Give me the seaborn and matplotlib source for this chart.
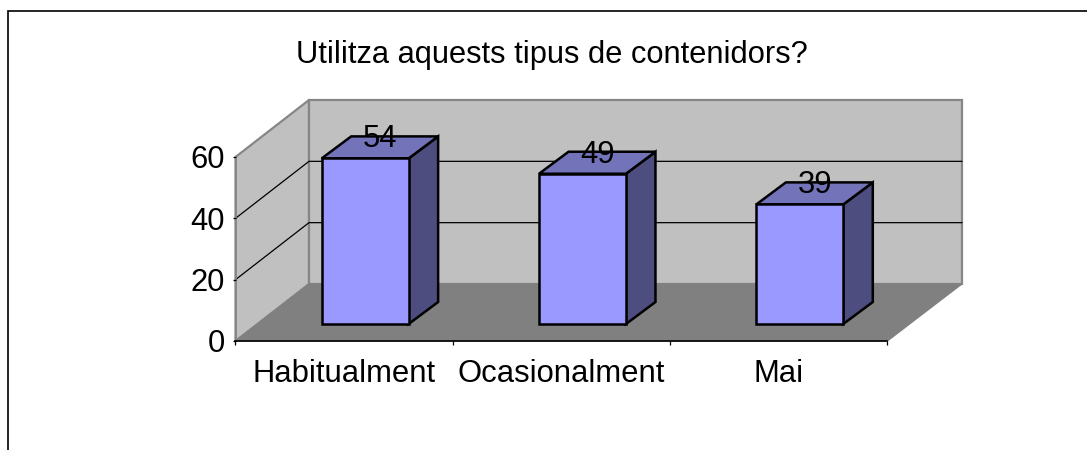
import matplotlib
matplotlib.use("Agg")
import matplotlib.pyplot as plt
from matplotlib.patches import Polygon
from matplotlib.transforms import Affine2D
import seaborn as sns
import pandas as pd

categories = ["Habitualment", "Ocasionalment", "Mai"]
values = [54, 49, 39]
y_ticks = [0, 20, 40, 60]
title = "Utilitza aquests tipus de contenidors?"

W, H = 1087, 450
sns.set_theme(style="white")
plt.rcParams["font.family"] = ["Liberation Sans", "DejaVu Sans"]

fig = plt.figure(figsize=(W / 100, H / 100), dpi=100, facecolor="white")
fig.add_artist(plt.Line2D([7.5 / W, 7.5 / W, 1.0], [0.0, 1 - 10.5 / H, 1 - 10.5 / H],
                          color="black", lw=1.2, transform=fig.transFigure, zorder=-1,
                          solid_joinstyle="miter"))
left, right, top, bottom = 235.5, 887.5, 157.0, 341.0
ax = fig.add_axes([left / W, 1 - bottom / H, (right - left) / W, (bottom - top) / H])
ax.patch.set_alpha(0)

df = pd.DataFrame({"cat": categories, "val": values})
sns.barplot(data=df, x="cat", y="val", color="#9999FF", saturation=1, width=0.4,
            edgecolor="black", linewidth=1.8, ax=ax, zorder=5)
ax.set_xlim(-0.5, 2.5)
ax.set_ylim(0, 60)
ax.set_xlabel("")
ax.set_ylabel("")

# pixel shifts of the oblique projection
DX, DY = 74.5, 57.0        # full depth of the box
BX, BY = 21.0, 17.0        # bar front relative to axis plane
SX, SY = 29.5, 22.0        # bar depth
fig.canvas.draw()
tr = ax.transData


def to_px(x, y, dx=0, dy=0):
    p = tr.transform((x, y))
    return (p[0] + dx, p[1] + dy)


x0, x1 = ax.get_xlim()
wall = "#C0C0C0"
edge = "#868686"
# side wall, back wall, floor
for art in [
    dict(points=[to_px(x0, 0), to_px(x0, 0, DX - 1, DY), to_px(x0, 60, DX - 1, DY), to_px(x0, 60)], fc=wall, ec=edge, lw=1.6),
    dict(points=[to_px(x0, 0, DX - 1, DY), to_px(x1, 0, DX, DY), to_px(x1, 60, DX, DY), to_px(x0, 60, DX - 1, DY)], fc=wall, ec=edge, lw=1.6),
    dict(points=[to_px(x0, 0), to_px(x1, 0), to_px(x1, 0, DX, DY), to_px(x0, 0, DX - 1, DY)], fc="#808080", ec="#808080", lw=0.8),
]:
    pts = art.pop("points")
    p = Polygon(pts, closed=True, transform=None, zorder=0.5, clip_on=False, **art)
    ax.add_artist(p)

# gridlines on both walls
for t in y_ticks:
    if t in (0, 60):
        continue
    a, b, c = to_px(x0, t), to_px(x0, t, DX - 1, DY), to_px(x1, t, DX, DY)
    ax.add_artist(plt.Line2D([a[0], b[0], c[0]], [a[1], b[1], c[1]], color="black", lw=0.9,
                             transform=None, zorder=1, clip_on=False))

# bars: shift the seaborn front faces, then add side and top faces
shift = Affine2D().translate(BX, BY)
for bar, v in zip(list(ax.patches), values):
    bar.set_transform(tr + shift)
    bar.set_clip_on(False)
    br = to_px(bar.get_x() + bar.get_width(), 0, BX, BY)
    tl = to_px(bar.get_x(), v, BX, BY)
    trr = to_px(bar.get_x() + bar.get_width(), v, BX, BY)
    ax.add_artist(Polygon([br, trr, (trr[0] + SX, trr[1] + SY), (br[0] + SX, br[1] + SY)], closed=True,
                          transform=None, fc="#4D4D80", ec="black", lw=1.8, zorder=4, clip_on=False))
    ax.add_artist(Polygon([tl, trr, (trr[0] + SX, trr[1] + SY), (tl[0] + SX, tl[1] + SY)], closed=True,
                          transform=None, fc="#7373B9", ec="black", lw=1.8, zorder=4, clip_on=False))
    cx = (tl[0] + trr[0]) / 2 + 15
    ax.text(cx, tl[1] + 19, str(v), transform=None, ha="center", va="center",
            fontsize=22.3, color="black", zorder=6)

# axes lines and ticks
for s in ["top", "right"]:
    ax.spines[s].set_visible(False)
ax.spines["left"].set_color(edge)
ax.spines["left"].set_linewidth(1.2)
ax.spines["bottom"].set_color("black")
ax.spines["bottom"].set_linewidth(1.2)
ax.set_axisbelow(False)
ax.set_yticks(y_ticks)
ax.set_xticks([x0, x0 + 1, x0 + 2, x1])
ax.set_xticklabels([])
ax.set_xticks(range(3), categories, minor=True)
ax.set_xlim(x0, x1)
ax.tick_params(axis="y", which="major", left=True, length=2.5, width=0.9, color="black", labelsize=22.3, pad=5.4, labelcolor="black")
ax.tick_params(axis="x", which="major", bottom=True, length=3, width=0.9, color="black")
ax.tick_params(axis="x", which="minor", bottom=False, labelsize=22.3, pad=8.8, labelcolor="black")

fig.text(552 / W, 1 - 55 / H, title, ha="center", va="center", fontsize=22.2, color="black")
fig.savefig("out.png", dpi=100)
